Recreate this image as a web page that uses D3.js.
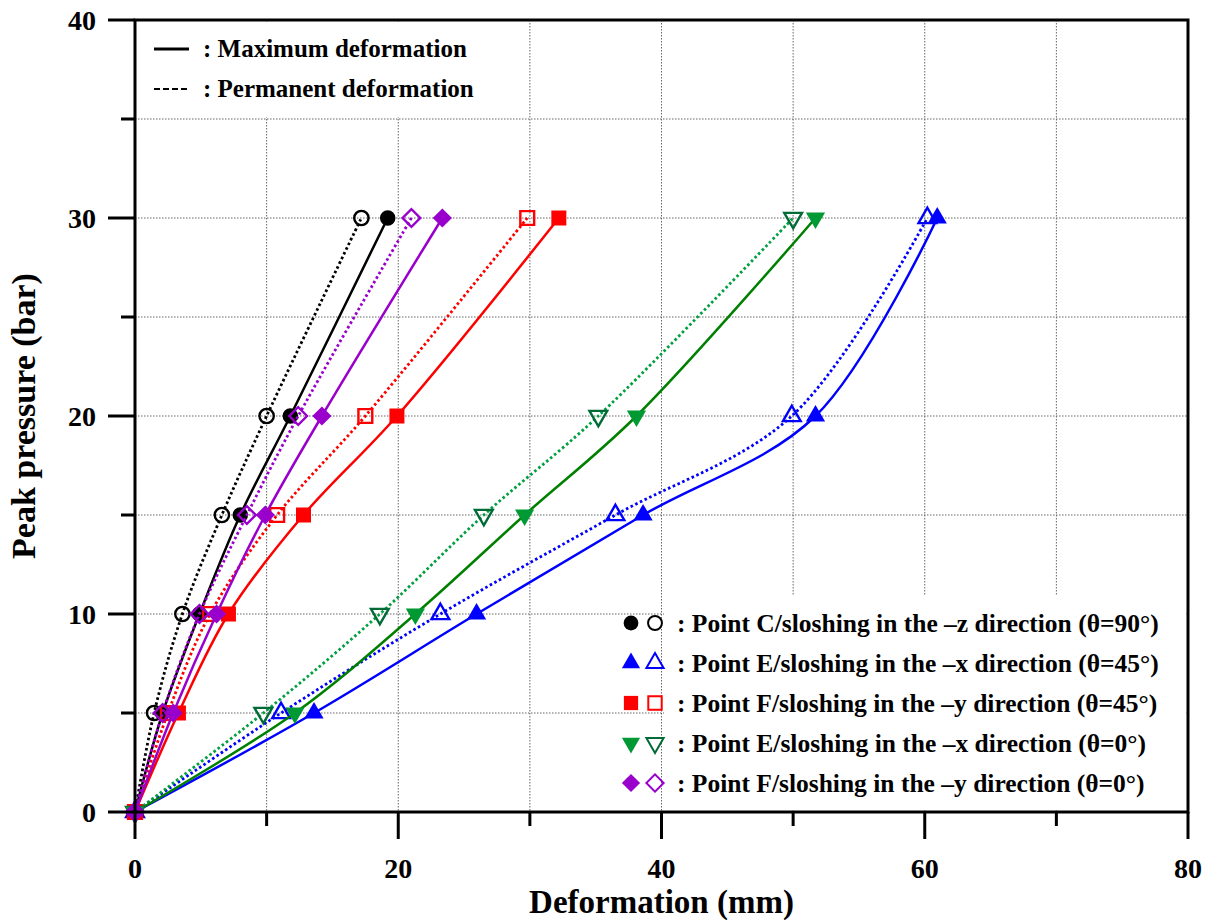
<!DOCTYPE html>
<html>
<head>
<meta charset="utf-8">
<script src="https://cdn.jsdelivr.net/npm/d3@7"></script>
<style>
  body { margin: 0; background: #fff; }
  text { font-family: "Liberation Serif", "Times New Roman", serif; font-weight: bold; }
</style>
</head>
<body>
<svg width="1213" height="922"></svg>
<script>
// peak pressure (bar) is the same for every series
const pressure = [0, 5, 10, 15, 20, 30];

// deformation (mm), max = solid line / filled marker, perm = dotted / open marker
const cMax = [0, 2.1, 4.9, 8.0, 11.8, 19.2];
const cPerm = [0, 1.45, 3.6, 6.6, 10.0, 17.2];
const e45Max = [0, 13.6, 25.95, 38.6, 51.7, 60.95];
const e45Perm = [0, 11.1, 23.2, 36.5, 49.9, 60.2];
const f45Max = [0, 3.3, 7.1, 12.8, 19.9, 32.2];
const f45Perm = [0, 2.5, 5.7, 10.8, 17.5, 29.8];
const e0Max = [0, 12.15, 21.3, 29.6, 38.1, 51.7];
const e0Perm = [0, 9.75, 18.6, 26.5, 35.2, 50.0];
const f0Max = [0, 2.9, 6.2, 9.9, 14.2, 23.35];
const f0Perm = [0, 2.1, 4.9, 8.5, 12.4, 21.0];

const seriesLabels = [
  ': Point C/sloshing in the \u2013z direction (\u03b8=90\u00b0)',
  ': Point E/sloshing in the \u2013x direction (\u03b8=45\u00b0)',
  ': Point F/sloshing in the \u2013y direction (\u03b8=45\u00b0)',
  ': Point E/sloshing in the \u2013x direction (\u03b8=0\u00b0)',
  ': Point F/sloshing in the \u2013y direction (\u03b8=0\u00b0)'
];

const xMajor = [0, 20, 40, 60, 80];
const xMinor = [10, 30, 50, 70];
const yMajor = [0, 10, 20, 30, 40];
const yMinor = [5, 15, 25, 35];

// styling per series
const series = [
  {max: cMax, perm: cPerm, shape: 'circle', fill: '#000', open: '#000', line: '#000', dot: '#000', size: 190},
  {max: e45Max, perm: e45Perm, shape: 'up', fill: '#0000ff', open: '#0000ff', line: '#0000ff', dot: '#0000ff', size: 160},
  {max: f45Max, perm: f45Perm, shape: 'square', fill: '#ff0000', open: '#ff0000', line: '#ff0000', dot: '#ff0000', size: 225},
  {max: e0Max, perm: e0Perm, shape: 'down', fill: '#009933', open: '#006b36', line: '#008000', dot: '#00a040', size: 160},
  {max: f0Max, perm: f0Perm, shape: 'diamond', fill: '#9900cc', open: '#9900cc', line: '#9900cc', dot: '#9900cc', size: 185}
];

const svg = d3.select('svg');

const mLeft = 135, mRight = 1188, mTop = 20, mBottom = 812;

const x = d3.scaleLinear().domain([0, 80]).range([mLeft, mRight]);
const y = d3.scaleLinear().domain([0, 40]).range([mBottom, mTop]);

//---- GRID -------
const grid = svg.append('g')
  .attr('stroke', '#666')
  .attr('stroke-width', 1)
  .attr('stroke-dasharray', '1.5,1.5');

grid.selectAll('.vg').data(xMajor.concat(xMinor).filter(d => d > 0 && d < 80))
  .enter().append('line')
  .attr('x1', d => x(d)).attr('x2', d => x(d))
  .attr('y1', mTop).attr('y2', mBottom);

grid.selectAll('.hg').data(yMajor.concat(yMinor).filter(d => d > 0 && d < 40))
  .enter().append('line')
  .attr('x1', mLeft).attr('x2', mRight)
  .attr('y1', d => y(d)).attr('y2', d => y(d));

// white boxes behind the legends
svg.append('rect').attr('x', mLeft + 2).attr('y', mTop + 2)
  .attr('width', 365).attr('height', 95).attr('fill', '#fff');
svg.append('rect').attr('x', 664).attr('y', 596)
  .attr('width', mRight - 666).attr('height', mBottom - 598).attr('fill', '#fff');

//---- CURVES AND MARKERS -------
function markerPath(shape, size) {
  if (shape === 'circle') return d3.symbol(d3.symbolCircle, size)();
  if (shape === 'square' || shape === 'diamond') return d3.symbol(d3.symbolSquare, size)();
  return d3.symbol(d3.symbolTriangle, size)();
}
function markerRotate(shape) {
  if (shape === 'diamond') return 45;
  if (shape === 'down') return 180;
  return 0;
}

const line = d3.line()
  .x(d => x(d[0]))
  .y(d => y(d[1]))
  .curve(d3.curveCatmullRom.alpha(0.5));

series.forEach(s => {
  const maxPts = s.max.map((v, i) => [v, pressure[i]]);
  const permPts = s.perm.map((v, i) => [v, pressure[i]]);

  svg.append('path')
    .attr('d', line(permPts))
    .attr('fill', 'none')
    .attr('stroke', s.dot)
    .attr('stroke-width', 2.8)
    .attr('stroke-dasharray', '2.6,2.6');

  svg.append('path')
    .attr('d', line(maxPts))
    .attr('fill', 'none')
    .attr('stroke', s.line)
    .attr('stroke-width', 2.5);

  svg.selectAll(null).data(permPts)
    .enter().append('path')
    .attr('d', markerPath(s.shape, s.size * 0.85))
    .attr('transform', d => `translate(${x(d[0])},${y(d[1])}) rotate(${markerRotate(s.shape)})`)
    .attr('fill', 'none')
    .attr('stroke', s.open)
    .attr('stroke-width', 2.4);

  svg.selectAll(null).data(maxPts)
    .enter().append('path')
    .attr('d', markerPath(s.shape, s.size))
    .attr('transform', d => `translate(${x(d[0])},${y(d[1])}) rotate(${markerRotate(s.shape)})`)
    .attr('fill', s.fill);
});

//---- AXES FRAME AND TICKS -------
svg.append('rect')
  .attr('x', mLeft).attr('y', mTop)
  .attr('width', mRight - mLeft).attr('height', mBottom - mTop)
  .attr('fill', 'none')
  .attr('stroke', '#000')
  .attr('stroke-width', 3);

const ticks = svg.append('g').attr('stroke', '#000').attr('stroke-width', 3);

ticks.selectAll('.xt').data(xMajor).enter().append('line')
  .attr('x1', d => x(d)).attr('x2', d => x(d))
  .attr('y1', mBottom).attr('y2', mBottom + 27);
ticks.selectAll('.xm').data(xMinor).enter().append('line')
  .attr('x1', d => x(d)).attr('x2', d => x(d))
  .attr('y1', mBottom).attr('y2', mBottom + 14);
ticks.selectAll('.yt').data(yMajor).enter().append('line')
  .attr('x1', mLeft - 27).attr('x2', mLeft)
  .attr('y1', d => y(d)).attr('y2', d => y(d));
ticks.selectAll('.ym').data(yMinor).enter().append('line')
  .attr('x1', mLeft - 14).attr('x2', mLeft)
  .attr('y1', d => y(d)).attr('y2', d => y(d));

svg.selectAll('.xl').data(xMajor).enter().append('text')
  .attr('x', d => x(d))
  .attr('y', 878)
  .attr('text-anchor', 'middle')
  .attr('font-size', 28)
  .text(d => d);

svg.selectAll('.yl').data(yMajor).enter().append('text')
  .attr('x', 96)
  .attr('y', d => y(d) + 10)
  .attr('text-anchor', 'end')
  .attr('font-size', 28)
  .text(d => d);

svg.append('text')
  .attr('x', (mLeft + mRight) / 2)
  .attr('y', 913)
  .attr('text-anchor', 'middle')
  .attr('font-size', 33)
  .text('Deformation (mm)');

svg.append('text')
  .attr('transform', `translate(35,${(mTop + mBottom) / 2}) rotate(-90)`)
  .attr('text-anchor', 'middle')
  .attr('font-size', 34)
  .text('Peak pressure (bar)');

//---- LEGENDS -------
svg.append('line')
  .attr('x1', 154).attr('x2', 189).attr('y1', 49).attr('y2', 49)
  .attr('stroke', '#000').attr('stroke-width', 3);
svg.append('line')
  .attr('x1', 154).attr('x2', 189).attr('y1', 89).attr('y2', 89)
  .attr('stroke', '#000').attr('stroke-width', 2)
  .attr('stroke-dasharray', '6,3');
svg.append('text').attr('x', 203).attr('y', 57).attr('font-size', 25)
  .text(': Maximum deformation');
svg.append('text').attr('x', 203).attr('y', 97).attr('font-size', 25)
  .text(': Permanent deformation');

series.forEach((s, i) => {
  const cy = 623 + i * 40;
  svg.append('path')
    .attr('d', markerPath(s.shape, s.size * 0.9))
    .attr('transform', `translate(631,${cy}) rotate(${markerRotate(s.shape)})`)
    .attr('fill', s.fill);
  svg.append('path')
    .attr('d', markerPath(s.shape, s.size * 0.8))
    .attr('transform', `translate(655,${cy}) rotate(${markerRotate(s.shape)})`)
    .attr('fill', 'none')
    .attr('stroke', s.open)
    .attr('stroke-width', 2);
  svg.append('text')
    .attr('x', 677)
    .attr('y', cy + 9)
    .attr('font-size', 25.5)
    .text(seriesLabels[i]);
});
</script>
</body>
</html>
